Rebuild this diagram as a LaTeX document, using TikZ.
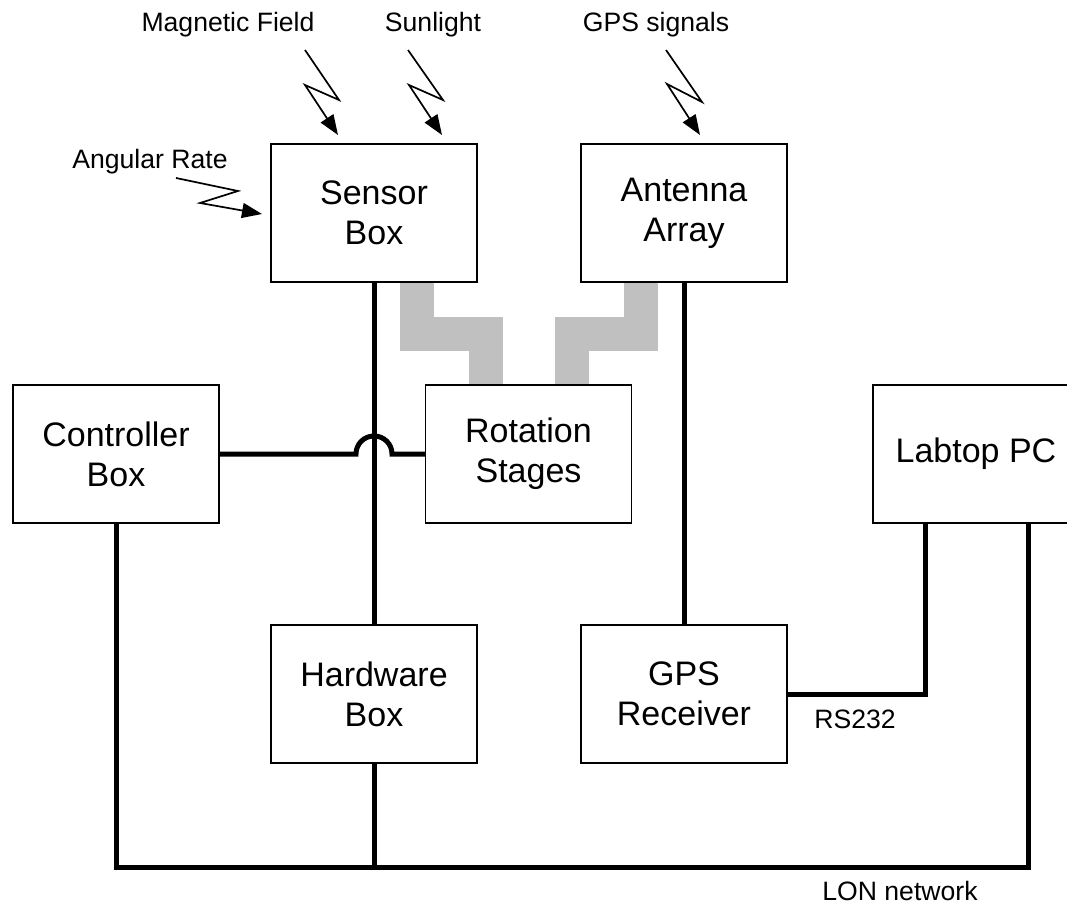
\documentclass[tikz,border=0pt]{standalone}
\usepackage{fontspec}
\setmainfont{Liberation Sans}
\usetikzlibrary{arrows.meta}
\definecolor{cablegray}{RGB}{192,192,192}
\tikzset{
  unit/.style={draw=black, line width=1.4pt, fill=white, minimum width=206pt,
    minimum height=138pt, align=center, inner sep=0pt,
    font=\fontsize{34}{40}\selectfont},
  wire/.style={line width=5pt, line join=miter},
  cable/.style={draw=cablegray, line width=34pt, line join=miter},
  bolt/.style={line width=1.7pt, -{Triangle[length=20pt,width=15pt]}},
  tag/.style={anchor=base, inner sep=0pt, font=\fontsize{26.6}{32}\selectfont},
}
\begin{document}
\begin{tikzpicture}[x=1pt, y=-1pt]
\useasboundingbox (0,0) rectangle (1067,904);

% mechanical links to the rotation stages (under the boxes)
\coordinate (cabA) at (417,282);
\coordinate (cabB) at (640.5,282);
\coordinate (rotA) at (486,385);
\coordinate (rotB) at (572,385);
\draw[cable] (cabA) -- ++(0,51.5) -| (rotA);
\draw[cable] (cabB) -- ++(0,51.5) -| (rotB);

% units
\node[unit] (sensor) at (374,213) {Sensor\\Box};
\node[unit] (ant) at (684,213) {Antenna\\Array};
\node[unit] (ctrl) at (116,454) {Controller\\Box};
\node[unit] (rot) at (528.5,454) {Rotation\\Stages};
\node[unit] (lap) at (976,454) {Labtop PC};
\node[unit] (hw) at (374,694) {Hardware\\Box};
\node[unit] (gps) at (684,694) {GPS\\Receiver};

% wiring
\coordinate (busL) at (116,867);
\coordinate (busR) at (1028,867);
\coordinate (rsT) at (925,523);
\draw[wire] (sensor.south) -- (hw.north);
\draw[wire] (ant.south) -- (gps.north);
\draw[wire] (hw.south) -- (hw.south |- busL);
\draw[wire] (ctrl.south) -- (busL) -- (busR) -- (lap.south -| busR);
\draw[wire] (gps.east) -| (rsT);
\draw[wire] (ctrl.east) -- (356,454)
  .. controls (356,444) and (364,436) .. (374,436)
  .. controls (384,436) and (392,444) .. (392,454) -- (rot.west);

% incoming signals
\coordinate (mfA) at (305,50);
\coordinate (slA) at (408,50);
\coordinate (gsA) at (666,50);
\coordinate (arA) at (176,178);
\draw[bolt] (mfA) -- (339,100) -- (305,85) -- (338,135);
\draw[bolt] (slA) -- (443,100) -- (409,85) -- (442,135);
\draw[bolt] (gsA) -- (702,102) -- (667,84) -- (700,135);
\draw[bolt] (arA) -- (238,191) -- (200,203) -- (262,214);

% labels
\node[tag] (mf) at (228,32) {Magnetic Field};
\node[tag] (sl) at (433,32) {Sunlight};
\node[tag] (gs) at (656,32) {GPS signals};
\node[tag] (ar) at (150,169) {Angular Rate};
\node[tag] (rs) at (855,728) {RS232};
\node[tag] (lon) at (900,900) {LON network};
\end{tikzpicture}
\end{document}
